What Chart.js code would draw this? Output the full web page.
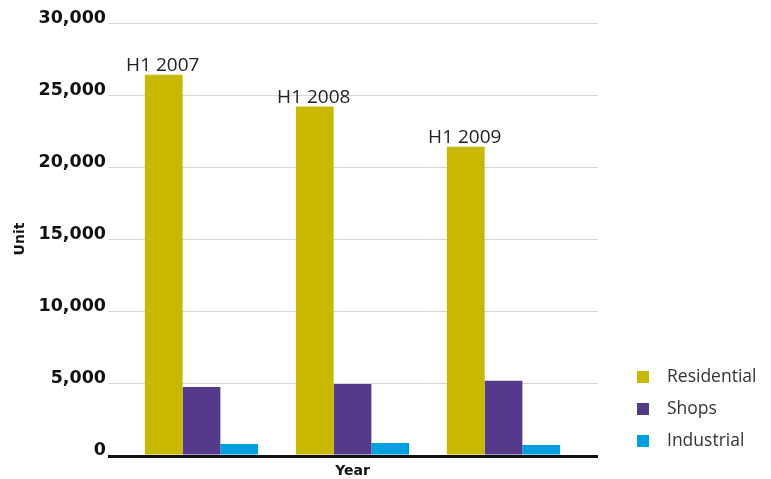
<!DOCTYPE html>
<html>
<head>
<meta charset="utf-8">
<style>
  html, body { margin: 0; padding: 0; background: #ffffff; }
  #wrap { width: 771px; height: 479px; position: relative; }
</style>
<script src="https://cdn.jsdelivr.net/npm/chart.js@4/dist/chart.umd.min.js"></script>
</head>
<body>
<div id="wrap"><canvas id="chart" width="771" height="479"></canvas></div>
<script>
// Completed units by period and property type
const categories = ['H1 2007', 'H1 2008', 'H1 2009'];
const residential = [26400, 24200, 21400];
const shops = [4720, 4930, 5160];
const industrial = [760, 830, 690];
const seriesNames = ['Residential', 'Shops', 'Industrial'];
const seriesColors = ['#C8B800', '#55398B', '#009FDF'];
const yMax = 30000;
const yStep = 5000;

// Horizontal gridlines and baseline, extended a little past the bar area
const gridPlugin = {
  id: 'extendedGrid',
  beforeDatasetsDraw(chart) {
    const { ctx, chartArea, scales } = chart;
    const left = chartArea.left - 18;
    const right = chartArea.right + 19;
    ctx.save();
    ctx.strokeStyle = '#d6d6d6';
    ctx.lineWidth = 1;
    scales.y.ticks.forEach(t => {
      if (t.value === 0) return;
      const y = Math.round(scales.y.getPixelForValue(t.value)) + 0.5;
      ctx.beginPath();
      ctx.moveTo(left, y);
      ctx.lineTo(right, y);
      ctx.stroke();
    });
    ctx.restore();
  },
  afterDatasetsDraw(chart) {
    const { ctx, chartArea, scales } = chart;
    const y0 = scales.y.getPixelForValue(0);
    ctx.save();
    ctx.strokeStyle = '#111111';
    ctx.lineWidth = 3;
    ctx.beginPath();
    ctx.moveTo(chartArea.left - 18, y0 + 1.5);
    ctx.lineTo(chartArea.right + 19, y0 + 1.5);
    ctx.stroke();
    ctx.restore();
  }
};

// Period names written above the tallest bar of each group
const periodLabelPlugin = {
  id: 'periodLabels',
  afterDatasetsDraw(chart) {
    const { ctx } = chart;
    const meta = chart.getDatasetMeta(0);
    ctx.save();
    ctx.font = '19px "Open Sans", sans-serif';
    ctx.fillStyle = '#222222';
    ctx.textAlign = 'center';
    ctx.textBaseline = 'alphabetic';
    meta.data.forEach((bar, i) => {
      ctx.fillText(categories[i], bar.x - 1, bar.y - 4);
    });
    ctx.restore();
  }
};

// Legend at the lower right
const sideLegendPlugin = {
  id: 'sideLegend',
  afterDraw(chart) {
    const { ctx, chartArea } = chart;
    const x = chartArea.right + 58;
    const y = 377;
    ctx.save();
    ctx.font = '17.5px "Open Sans", sans-serif';
    ctx.textBaseline = 'middle';
    chart.data.datasets.forEach((ds, i) => {
      const cy = y + i * 32;
      ctx.fillStyle = ds.backgroundColor;
      ctx.fillRect(x, cy - 6, 12, 12);
      ctx.fillStyle = '#333333';
      ctx.fillText(ds.label, x + 30, cy);
    });
    ctx.restore();
  }
};

const values = [residential, shops, industrial];

new Chart(document.getElementById('chart'), {
  type: 'bar',
  data: {
    labels: categories,
    datasets: values.map((v, i) => ({
      label: seriesNames[i],
      data: v,
      backgroundColor: seriesColors[i],
      borderWidth: 0,
      categoryPercentage: 0.75,
      barPercentage: 1.0
    }))
  },
  options: {
    responsive: false,
    animation: false,
    layout: { padding: { top: 23, right: 192, left: 0, bottom: 0 } },
    plugins: {
      legend: { display: false },
      tooltip: { enabled: false }
    },
    scales: {
      x: {
        grid: { display: false, drawTicks: false },
        border: { display: false },
        ticks: { display: false },
        title: {
          display: true,
          text: 'Year',
          color: '#111111',
          font: { family: '"DejaVu Sans", sans-serif', size: 14, weight: 'bold' },
          padding: { top: 0, bottom: -1 }
        },
        afterFit(s) { s.height = 24; }
      },
      y: {
        min: 0,
        max: yMax,
        grid: {
          display: true,
          drawOnChartArea: false,
          drawTicks: true,
          tickLength: 18,
          color: 'rgba(0,0,0,0)'
        },
        border: { display: false },
        ticks: {
          stepSize: yStep,
          padding: 2,
          labelOffset: -5,
          color: '#111111',
          font: { family: '"DejaVu Sans", sans-serif', size: 17.5, weight: 'bold' },
          callback: v => v.toLocaleString('en-US')
        },
        title: {
          display: true,
          text: 'Unit',
          color: '#111111',
          font: { family: '"DejaVu Sans", sans-serif', size: 14, weight: 'bold' },
          padding: { top: 12, bottom: 0 }
        },
        afterFit(s) { s.width = 126; }
      }
    }
  },
  plugins: [gridPlugin, periodLabelPlugin, sideLegendPlugin]
});
</script>
</body>
</html>
